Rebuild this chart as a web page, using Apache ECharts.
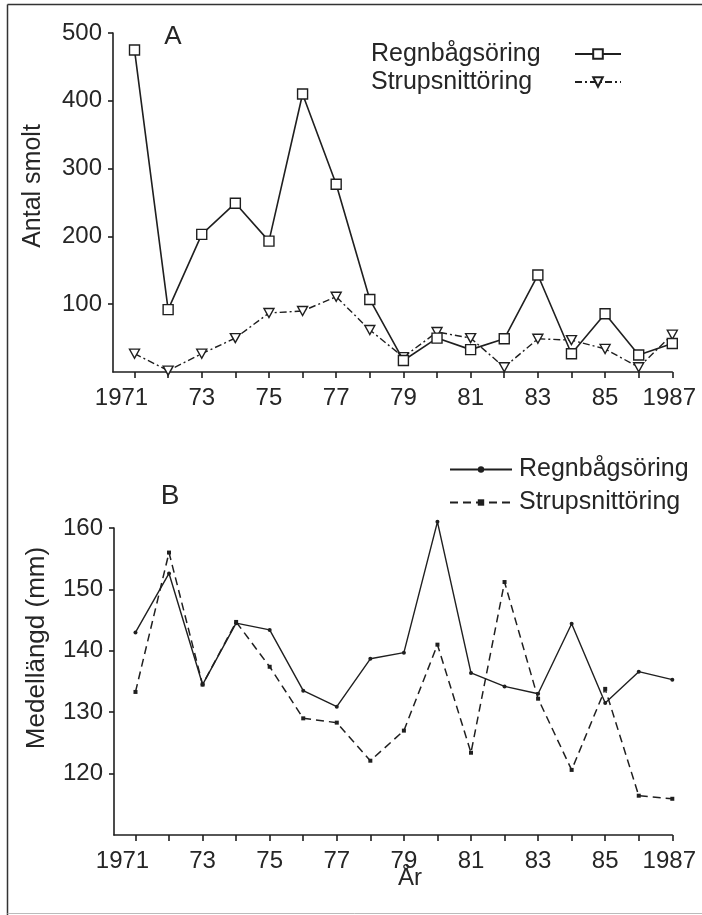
<!DOCTYPE html>
<html>
<head>
<meta charset="utf-8">
<script src="https://cdn.jsdelivr.net/npm/echarts@6/dist/echarts.min.js"></script>
<style>
html,body{margin:0;padding:0;background:#fff;}
#chart{width:702px;height:915px;}
</style>
</head>
<body>
<div id="chart"></div>
<script>
// ---- data ----
const years = [1971,1972,1973,1974,1975,1976,1977,1978,1979,1980,1981,1982,1983,1984,1985,1986,1987];
const xLabelYears = [1971,1973,1975,1977,1979,1981,1983,1985,1987];
const seriesNames = ['Regnbågsöring','Strupsnittöring'];
// Panel A: Antal smolt
const smoltRegn  = [475, 92, 203, 249, 193, 410, 277, 107, 17, 50, 33, 49, 143, 27, 86, 25, 42];
const smoltStrup = [27, 2, 27, 50, 87, 90, 111, 62, 22, 59, 50, 7, 49, 47, 34, 7, 55];
const yTicksA = [100, 200, 300, 400, 500];
// Panel B: Medellängd (mm)
const lenRegn  = [143, 152.6, 134.5, 144.5, 143.4, 133.5, 130.9, 138.7, 139.7, 161, 136.4, 134.2, 133, 144.4, 131.5, 136.6, 135.3];
const lenStrup = [133.3, 156, 134.5, 144.7, 137.4, 129, 128.3, 122.1, 127, 141, 123.4, 151.2, 132.2, 120.6, 133.8, 116.4, 115.9];
const yTicksB = [120, 130, 140, 150, 160];

// ---- chart ----
const FONT = "'Liberation Sans', Arial, Helvetica, sans-serif";
const INK = '#1f1f1f';
const TXT = '#262626';
const pairs = vals => years.map((y, i) => [y, vals[i]]);
function yearLabel(v) {
  if (v === 1971) return '{p|1971}{s1|}';
  if (v === 1987) return '{p|1987}{s2|}';
  return '{p|' + String(v).slice(2) + '}';
}
const labelRich = {
  p: {fontSize: 24, color: TXT, fontFamily: FONT},
  s1: {width: 26, fontSize: 24},
  s2: {width: 6, fontSize: 24}
};

function xAxisFor(gridIndex) {
  return {
    type: 'value', gridIndex: gridIndex, min: 1970.36, max: 1987,
    axisLine: {show: true, onZero: false, lineStyle: {color: INK, width: 1.6}},
    axisTick: {show: true, inside: false, length: 6, lineStyle: {color: INK, width: 1.6}, customValues: years},
    axisLabel: {show: true, margin: 14, fontSize: 24, color: TXT, fontFamily: FONT,
      customValues: xLabelYears, formatter: yearLabel, rich: labelRich},
    splitLine: {show: false}
  };
}
function yAxisFor(gridIndex, min, max, ticks) {
  return {
    type: 'value', gridIndex: gridIndex, min: min, max: max,
    axisLine: {show: true, onZero: false, lineStyle: {color: INK, width: 1.6}},
    axisTick: {show: true, inside: false, length: 5, lineStyle: {color: INK, width: 1.6}, customValues: ticks},
    axisLabel: {show: true, margin: 11, fontSize: 24, color: TXT, fontFamily: FONT, customValues: ticks},
    splitLine: {show: false}
  };
}

const chart = echarts.init(document.getElementById('chart'), null, {renderer: 'canvas'});
chart.setOption({
  backgroundColor: '#fff',
  animation: false,
  grid: [
    {left: 113, right: 21, top: 33, height: 339},
    {left: 114, right: 21, top: 528, height: 307}
  ],
  xAxis: [xAxisFor(0), xAxisFor(1)],
  yAxis: [yAxisFor(0, 0, 500, yTicksA), yAxisFor(1, 110, 160, yTicksB)],
  legend: [
    {
      data: seriesNames, orient: 'vertical', left: 366, top: 35, align: 'right',
      itemWidth: 46, itemHeight: 12, itemGap: 0, selectedMode: false,
      formatter: n => '{a|' + n + '}',
      textStyle: {fontSize: 25, color: TXT, fontFamily: FONT, lineHeight: 28,
        rich: {a: {width: 199, align: 'left', fontSize: 25, color: TXT, fontFamily: FONT, lineHeight: 28}}}
    },
    {
      data: seriesNames.map(n => n + ' '), orient: 'vertical', left: 444, top: 448,
      itemWidth: 62, itemHeight: 8, itemGap: 0, selectedMode: false,
      formatter: n => n.trim(),
      textStyle: {fontSize: 25, color: TXT, fontFamily: FONT, lineHeight: 33, padding: [0, 0, 0, 2]}
    }
  ],
  series: [
    {
      name: seriesNames[0], type: 'line', xAxisIndex: 0, yAxisIndex: 0, clip: false,
      data: pairs(smoltRegn), symbol: 'rect', symbolSize: 10,
      itemStyle: {color: '#fff', borderColor: INK, borderWidth: 1.4},
      lineStyle: {color: INK, width: 1.6}, z: 3
    },
    {
      name: seriesNames[1], type: 'line', xAxisIndex: 0, yAxisIndex: 0, clip: false,
      data: pairs(smoltStrup), symbol: 'triangle', symbolRotate: 180, symbolSize: [10, 9],
      itemStyle: {color: '#fff', borderColor: INK, borderWidth: 1.4},
      lineStyle: {color: INK, width: 1.4, type: [7, 3, 2, 3]}, z: 2
    },
    {
      name: seriesNames[0] + ' ', type: 'line', xAxisIndex: 1, yAxisIndex: 1, clip: false,
      data: pairs(lenRegn), symbol: 'circle', symbolSize: 4,
      itemStyle: {color: INK},
      lineStyle: {color: INK, width: 1.4}, z: 3
    },
    {
      name: seriesNames[1] + ' ', type: 'line', xAxisIndex: 1, yAxisIndex: 1, clip: false,
      data: pairs(lenStrup), symbol: 'rect', symbolSize: 4,
      itemStyle: {color: INK},
      lineStyle: {color: INK, width: 1.5, type: [8, 5]}, z: 2
    }
  ],
  graphic: [
    {type: 'line', shape: {x1: 7.5, y1: 4.5, x2: 7.5, y2: 915}, style: {stroke: '#333', lineWidth: 1.5}},
    {type: 'line', shape: {x1: 7.5, y1: 4.5, x2: 702, y2: 4.5}, style: {stroke: '#333', lineWidth: 1.5}},
    {type: 'line', shape: {x1: 7.5, y1: 913.5, x2: 702, y2: 913.5}, style: {stroke: '#bbb', lineWidth: 1}},
    {type: 'text', x: 173, y: 37, style: {text: 'A', fontSize: 26, fontFamily: FONT, fill: TXT, textAlign: 'center', textVerticalAlign: 'middle'}},
    {type: 'text', x: 170, y: 496, style: {text: 'B', fontSize: 28, fontFamily: FONT, fill: TXT, textAlign: 'center', textVerticalAlign: 'middle'}},
    {type: 'text', x: 33, y: 186, rotation: Math.PI / 2, style: {text: 'Antal smolt', fontSize: 25, fontFamily: FONT, fill: TXT, textAlign: 'center', textVerticalAlign: 'middle'}},
    {type: 'text', x: 37, y: 648, rotation: Math.PI / 2, style: {text: 'Medellängd (mm)', fontSize: 26, fontFamily: FONT, fill: TXT, textAlign: 'center', textVerticalAlign: 'middle'}},
    {type: 'text', x: 410, y: 878, style: {text: 'År', fontSize: 24, fontFamily: FONT, fill: TXT, textAlign: 'center', textVerticalAlign: 'middle'}}
  ]
});
</script>
</body>
</html>
